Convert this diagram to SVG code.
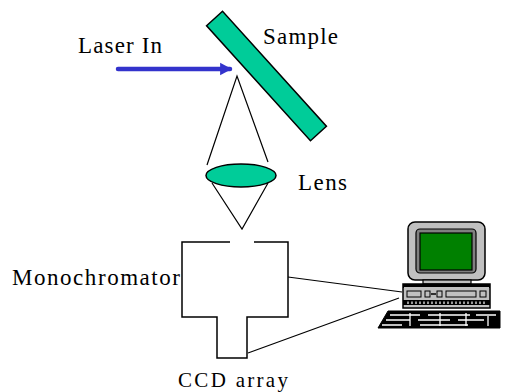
<svg xmlns="http://www.w3.org/2000/svg" width="508" height="392" viewBox="0 0 508 392">
  <style>
    .lbl { font-family: "Liberation Serif", "DejaVu Serif", serif; font-size: 23px; fill: #000; }
    .ray { stroke: #000; stroke-width: 1.2; fill: none; }
    .optic { fill: #00cc99; stroke: #000; stroke-width: 1.5; }
    .box { stroke: #000; stroke-width: 1.5; fill: none; }
    .wire { stroke: #000; stroke-width: 1.2; fill: none; }
  </style>
  <defs>
    <marker id="head" markerWidth="4" markerHeight="4" refX="2.2" refY="2" orient="auto" markerUnits="strokeWidth">
      <path d="M0,0.6 L2.6,2 L0,3.4 Z" fill="#3333cc"/>
    </marker>
  </defs>
  <rect width="508" height="392" fill="#fff"/>

  <!-- incoming laser beam -->
  <g id="laser">
    <line x1="118" y1="69" x2="230" y2="69" stroke="#3333cc" stroke-width="4.5" stroke-linecap="round" marker-end="url(#head)"/>
    <text class="lbl" x="78" y="53" textLength="84">Laser In</text>
  </g>

  <!-- sample plate -->
  <g id="sample">
    <rect class="optic" x="189" y="65.25" width="155" height="21.5" transform="rotate(47.9 266.5 76)"/>
    <text class="lbl" x="263" y="44" textLength="75">Sample</text>
  </g>

  <!-- collection lens -->
  <g id="lens">
    <ellipse class="optic" cx="241" cy="175.5" rx="35" ry="11.5"/>
    <text class="lbl" x="298" y="190" textLength="49">Lens</text>
  </g>

  <!-- monochromator housing with CCD stem -->
  <g id="monochromator">
    <path class="box" d="M230,242 H182 V317 H217 V358 H247 V317 H288 V242 H254"/>
    <text class="lbl" x="12" y="285" textLength="168">Monochromator</text>
    <text class="lbl" x="178" y="387" textLength="110" style="font-size:21px">CCD array</text>
  </g>

  <!-- computer -->
  <g id="computer" stroke="#000">
    <rect x="408" y="222" width="77" height="58" rx="7" fill="#c0c0c0" stroke-width="1.5"/>
    <rect x="416" y="229" width="60" height="44" rx="4" fill="#808080" stroke-width="1.2"/>
    <rect x="420" y="233" width="52" height="37" fill="#008000" stroke-width="1.2"/>
    <rect x="423" y="280" width="48" height="4" fill="#c0c0c0" stroke-width="1.2"/>
    <rect x="403" y="284" width="87" height="24" fill="#c0c0c0" stroke-width="1.5"/>
    <rect x="403" y="284" width="87" height="4" fill="#000" stroke="none"/>
    <rect x="404" y="287" width="85" height="2" fill="#c0c0c0" stroke="none"/>
    <rect x="407" y="291" width="14" height="6" fill="#c0c0c0" stroke-width="1"/>
    <rect x="425" y="291" width="5" height="6" fill="#c0c0c0" stroke-width="1"/>
    <line x1="431" y1="294" x2="436" y2="294" stroke-width="1.5"/>
    <rect x="437" y="291" width="5" height="6" fill="#c0c0c0" stroke-width="1"/>
    <rect x="446" y="291" width="30" height="6" fill="#c0c0c0" stroke-width="1"/>
    <rect x="480" y="291" width="6" height="6" fill="#c0c0c0" stroke-width="1"/>
    <rect x="403" y="300" width="87" height="5" fill="#000" stroke="none"/>
    <path d="M408,301.5 V304 M412,301.5 V304 M416,301.5 V304 M420,301.5 V304 M424,301.5 V304 M428,301.5 V304 M432,301.5 V304 M436,301.5 V304 M440,301.5 V304 M444,301.5 V304 M448,301.5 V304 M452,301.5 V304 M456,301.5 V304 M460,301.5 V304 M464,301.5 V304 M468,301.5 V304 M472,301.5 V304 M476,301.5 V304 M480,301.5 V304 M484,301.5 V304" stroke="#fff" stroke-width="1.2"/>
    <polygon points="388,311 500,311 500,328 378,328" fill="#000" stroke-width="1"/>
    <path d="M390,315 H420 M428,315 H470 M476,315 H496 M386,320 H410 M418,320 H450 M458,320 H484 M382,325 H402 M420,325 H468 M410,313 V326 M440,313 V326 M466,313 V326 M488,316 V326" stroke="#fff" stroke-width="1.3" fill="none"/>
  </g>

  <!-- light path and signal cables -->
  <g id="connectors">
    <polyline class="ray" points="207,165 237,76 268,162"/>
    <polyline class="ray" points="212,183 242,229 268,183"/>
    <line class="wire" x1="288" y1="277" x2="402" y2="292"/>
    <line class="wire" x1="248" y1="353" x2="399" y2="298"/>
  </g>
</svg>
